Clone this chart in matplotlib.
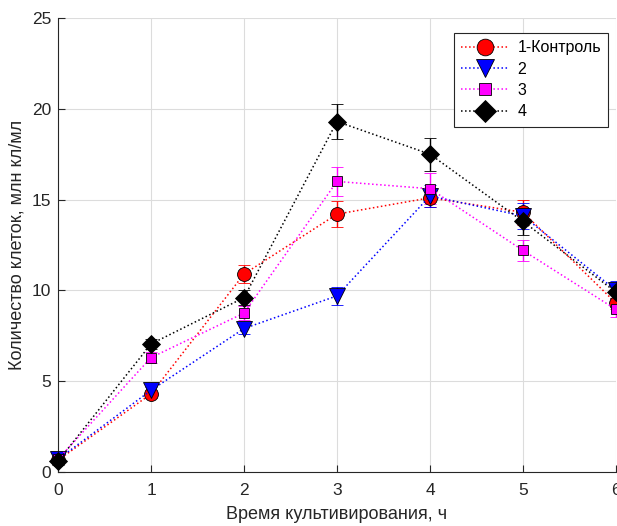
"""
cell count vs cultivation time, four groups with error bars.
"""

import matplotlib
matplotlib.use('Agg')
import matplotlib.pyplot as plt

plt.rcParams['font.family'] = ['Liberation Sans', 'DejaVu Sans']

# # data
hours = [0, 1, 2, 3, 4, 5, 6]
labels = ['1-Контроль', '2', '3', '4']

g1 = [0.65, 4.3, 10.9, 14.2, 15.1, 14.3, 9.3]
g1_err = [0.2, 0.2, 0.5, 0.7, 0.5, 0.7, 0.3]
g2 = [0.7, 4.5, 7.9, 9.7, 15.2, 14.1, 10.0]
g2_err = [0.2, 0.2, 0.3, 0.5, 0.6, 0.7, 0.5]
g3 = [0.7, 6.3, 8.75, 16.0, 15.6, 12.2, 8.95]
g3_err = [0.2, 0.3, 0.4, 0.8, 0.85, 0.6, 0.4]
g4 = [0.6, 7.05, 9.6, 19.3, 17.5, 13.8, 9.9]
g4_err = [0.2, 0.3, 0.4, 0.95, 0.9, 0.75, 0.3]

# style per group: colour, marker, marker size
STYLES = [('#ff0000', 'o', 10),
          ('#0000ff', 'v', 11),
          ('#ff00ff', 's', 7),
          ('#000000', 'D', 9)]

fig = plt.figure(figsize=(6.17, 5.26), dpi=100)
ax = fig.add_axes([58 / 617, 1 - 472 / 526, 558 / 617, 454 / 526])

handles = []
for (vals, errs), label, (color, marker, ms) in zip(
        [(g1, g1_err), (g2, g2_err), (g3, g3_err), (g4, g4_err)], labels, STYLES):
    cont = ax.errorbar(hours, vals, yerr=errs, color=color, linestyle=':', linewidth=1.1,
                       marker=marker, markersize=ms, markerfacecolor=color,
                       markeredgecolor='black', markeredgewidth=0.6,
                       ecolor=color, elinewidth=1.0, capsize=4.5, capthick=1.0,
                       label=label, clip_on=False, zorder=3)
    handles.append(cont.lines[0])

ax.set_xlim(0, 6)
ax.set_ylim(0, 25)
ax.set_xticks(hours)
ax.set_yticks([0, 5, 10, 15, 20, 25])
ax.grid(True, color='#dcdcdc', linewidth=0.8)
ax.set_axisbelow(True)
ax.spines['top'].set_visible(False)
ax.spines['right'].set_visible(False)
ax.spines['left'].set_color('#262626')
ax.spines['bottom'].set_color('#262626')
ax.tick_params(direction='in', length=5, labelsize=12.5, colors='#262626')
ax.tick_params(axis='x', pad=8)
ax.tick_params(axis='y', pad=5)

ax.set_xlabel('Время культивирования, ч', fontsize=13, color='#262626', labelpad=6)
ax.set_ylabel('Количество клеток, млн кл/мл', fontsize=13, color='#262626', labelpad=4)

leg = ax.legend(handles, labels, loc='upper left', bbox_to_anchor=(0.71, 0.967),
                borderaxespad=0, fontsize=11.5, fancybox=False, framealpha=1,
                edgecolor='#262626', handlelength=3.0, handletextpad=0.5,
                borderpad=0.45, labelspacing=0.4, markerscale=1.2)
leg.get_frame().set_linewidth(0.8)

plt.savefig('out.png', dpi=100)
